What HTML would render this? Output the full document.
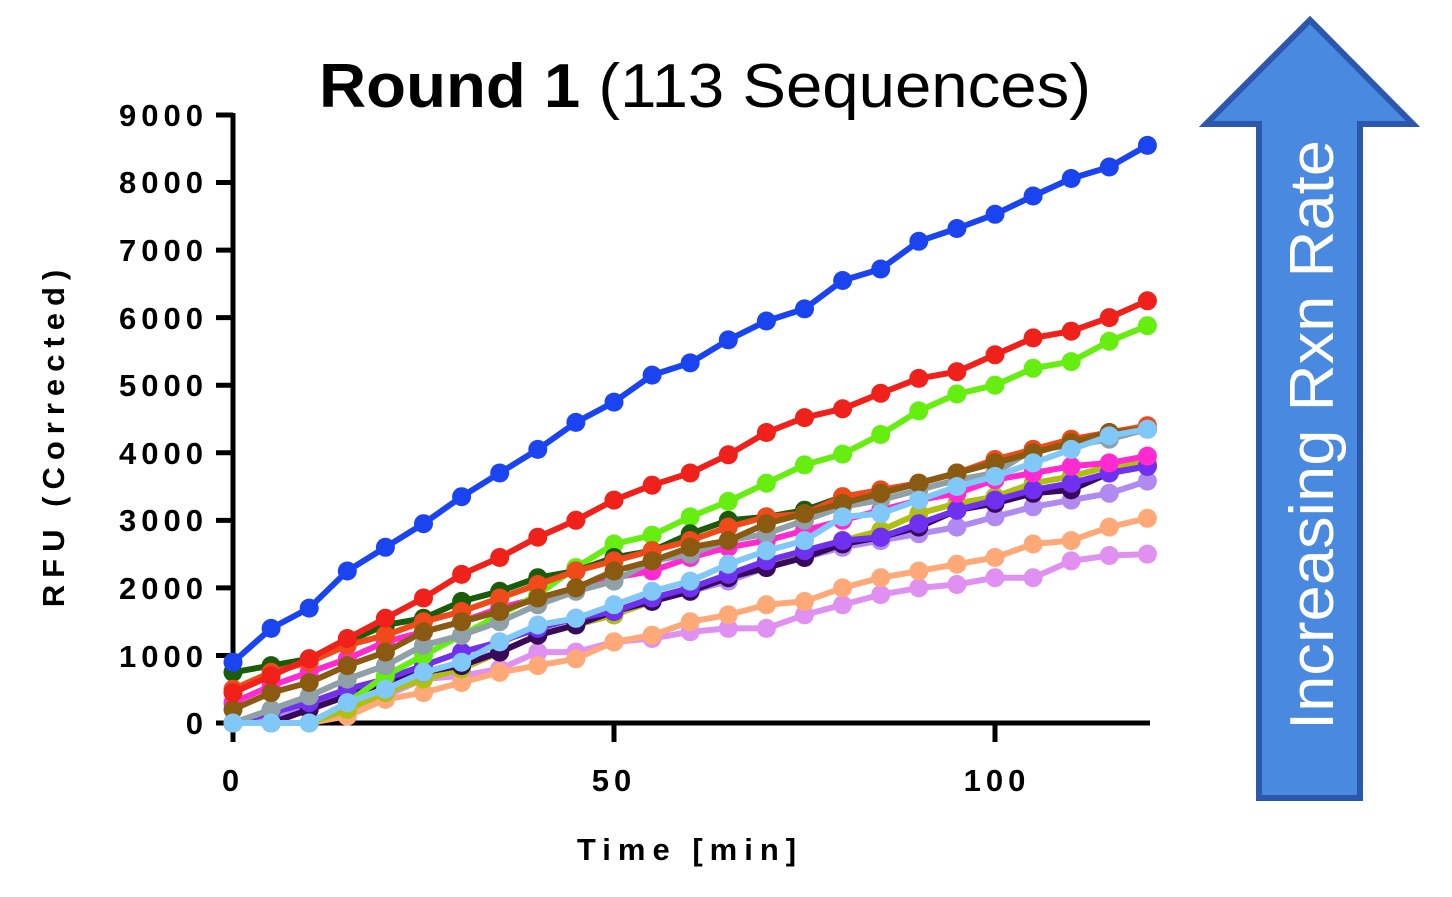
<!DOCTYPE html>
<html><head><meta charset="utf-8"><style>
html,body{margin:0;padding:0;background:#fff;width:1452px;height:897px;overflow:hidden}
</style></head><body>
<svg id="s" width="1452" height="897" viewBox="0 0 1452 897" xmlns="http://www.w3.org/2000/svg" font-family="Liberation Sans, sans-serif">
<text x="705" y="107" text-anchor="middle" font-size="62" textLength="772" lengthAdjust="spacingAndGlyphs"><tspan font-weight="bold">Round 1</tspan> (113 Sequences)</text>
<g font-size="31" font-weight="bold" text-anchor="end" letter-spacing="5">
<text x="208" y="734">0</text><text x="208" y="667">1000</text><text x="208" y="599">2000</text><text x="208" y="531">3000</text><text x="208" y="464">4000</text><text x="208" y="396">5000</text><text x="208" y="329">6000</text><text x="208" y="261">7000</text><text x="208" y="193">8000</text><text x="208" y="126">9000</text>
</g>
<g font-size="31" font-weight="bold" text-anchor="middle" letter-spacing="5">
<text x="233" y="791">0</text><text x="614" y="791">50</text><text x="997" y="791">100</text>
<text x="690" y="860" letter-spacing="7">Time [min]</text>
<text transform="translate(64,435) rotate(-90)" letter-spacing="7">RFU (Corrected)</text>
</g>
<g stroke="#000" stroke-width="5" fill="none">
<line x1="233" y1="113" x2="233" y2="742"/>
<line x1="231" y1="723" x2="1150" y2="723"/>
<line x1="614" y1="723" x2="614" y2="742"/><line x1="995" y1="723" x2="995" y2="742"/>
</g>
<g id="ty" stroke="#000" stroke-width="5"></g>
<g id="d"></g>
<polygon points="1310,20 1413,124 1360,124 1360,798 1259,798 1259,124 1206,124" fill="#4a89e0" stroke="#2b58ad" stroke-width="6" stroke-linejoin="miter"/>
<text transform="translate(1333,435) rotate(-90)" text-anchor="middle" font-size="62" fill="#fff" textLength="590" lengthAdjust="spacingAndGlyphs">Increasing Rxn Rate</text>
</svg>
<script>
var ns="http://www.w3.org/2000/svg";
var ty=document.getElementById('ty');
for(var i=0;i<=9;i++){var y=723-i*67.56;var l=document.createElementNS(ns,'line');l.setAttribute('x1',216);l.setAttribute('x2',233);l.setAttribute('y1',y);l.setAttribute('y2',y);ty.appendChild(l);}
var S=[
["#e090f0",[0,0,0,200,400,650,700,800,1050,1050,1200,1250,1350,1400,1400,1600,1750,1900,2000,2050,2150,2150,2400,2480,2500]],
["#ffa878",[0,0,0,100,350,450,600,750,850,950,1200,1300,1500,1600,1750,1800,2000,2150,2250,2350,2450,2650,2700,2900,3030]],
["#b08af0",[0,100,250,450,600,750,900,1050,1300,1450,1600,1800,1950,2100,2300,2450,2600,2700,2800,2900,3050,3200,3300,3400,3580]],
["#b0c010",[0,0,0,200,450,650,800,1050,1300,1450,1600,1800,2000,2200,2400,2500,2700,2850,3100,3250,3350,3550,3650,3800,3850]],
["#3a0a5a",[0,0,200,400,600,750,850,1050,1300,1450,1650,1800,1950,2150,2300,2450,2650,2750,2900,3150,3250,3400,3450,3700,3800]],
["#7030f0",[0,150,300,500,650,850,1050,1200,1400,1550,1650,1850,2000,2200,2400,2550,2700,2750,2950,3150,3300,3450,3550,3700,3800]],
["#ff2ad0",[300,550,750,950,1200,1350,1500,1700,1850,2000,2150,2250,2450,2600,2700,2850,3000,3150,3300,3400,3600,3700,3800,3850,3950]],
["#66ee11",[0,0,0,300,700,1000,1300,1600,1900,2300,2650,2780,3050,3280,3550,3820,3980,4270,4620,4870,5000,5250,5350,5650,5880]],
["#8fa0a8",[0,200,400,650,850,1150,1300,1500,1750,1950,2100,2400,2500,2700,2800,3000,3200,3300,3450,3600,3700,4050,4100,4200,4350]],
["#1a5c0a",[750,850,950,1200,1450,1550,1800,1950,2150,2250,2450,2550,2800,3000,3050,3150,3350,3400,3550,3700,3850,4000,4150,4250,4350]],
["#f04a1a",[500,750,900,1150,1300,1500,1650,1850,2050,2250,2400,2550,2700,2900,3050,3100,3350,3450,3550,3700,3900,4050,4200,4300,4400]],
["#8a5a10",[200,450,600,850,1050,1350,1500,1650,1850,2000,2250,2400,2600,2700,2950,3100,3250,3400,3550,3700,3850,4000,4150,4300,4350]],
["#80c8f8",[0,0,0,300,500,750,900,1200,1450,1550,1750,1950,2100,2350,2550,2700,3050,3100,3300,3500,3650,3850,4050,4250,4350]],
["#f0201a",[450,700,950,1250,1550,1850,2200,2450,2750,3000,3300,3520,3700,3970,4300,4520,4650,4880,5100,5200,5450,5700,5800,6000,6250]],
["#1a44f0",[900,1400,1700,2250,2600,2950,3350,3700,4050,4450,4750,5150,5330,5670,5950,6130,6550,6720,7130,7320,7530,7800,8060,8230,8550]]
];
var g=document.getElementById('d'),h='';
S.forEach(function(s){var pts=s[1].map(function(v,i){return [233+i*5*7.62,723-v*0.06756];});
h+='<polyline fill="none" stroke="'+s[0]+'" stroke-width="6" stroke-linejoin="round" points="'+pts.map(function(p){return p[0].toFixed(1)+','+p[1].toFixed(1)}).join(' ')+'"/>';
pts.forEach(function(p){h+='<circle cx="'+p[0].toFixed(1)+'" cy="'+p[1].toFixed(1)+'" r="9.5" fill="'+s[0]+'"/>';});});
g.innerHTML=h;
</script>
</body></html>
